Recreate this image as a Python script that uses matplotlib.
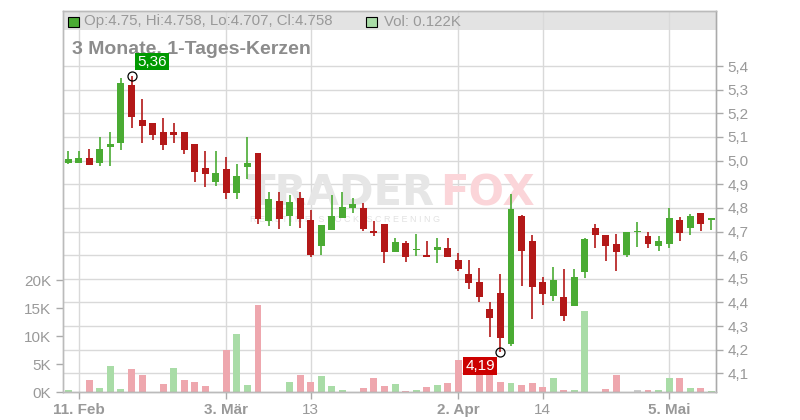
import numpy as np
import matplotlib
matplotlib.use("Agg")
import matplotlib.pyplot as plt
from matplotlib.patches import Rectangle
from matplotlib.lines import Line2D
from matplotlib.transforms import blended_transform_factory

plt.rcParams['font.family'] = ['Liberation Sans', 'DejaVu Sans']

# daily candles (index 0 = 10. Feb)
opens = [4.991, 4.99, 5.011, 4.991, 5.057, 5.076, 5.32, 5.172, 5.159, 5.121,
         5.121, 5.121, 5.07, 4.969, 4.911, 4.964, 4.864, 4.974, 5.032, 4.746,
         4.829, 4.767, 4.842, 4.749, 4.64, 4.708, 4.758, 4.801, 4.799, 4.703,
         4.732, 4.614, 4.651, 4.622, 4.602, 4.623, 4.632, 4.581, 4.522, 4.488,
         4.372, 4.44, 4.225, 4.767, 4.66, 4.486, 4.428, 4.423, 4.386, 4.53,
         4.715, 4.685, 4.647, 4.602, 4.698, 4.681, 4.64, 4.648, 4.749, 4.716,
         4.778, 4.75]
highs = [5.04, 5.04, 5.049, 5.10, 5.121, 5.349, 5.36, 5.259, 5.159, 5.18,
         5.159, 5.121, 5.07, 5.04, 5.04, 5.015, 4.985, 5.10, 5.032, 4.867,
         4.867, 4.854, 4.867, 4.791, 4.727, 4.854, 4.867, 4.842, 4.82, 4.744,
         4.732, 4.674, 4.661, 4.689, 4.661, 4.674, 4.674, 4.61, 4.581, 4.547,
         4.402, 4.52, 4.859, 4.771, 4.685, 4.507, 4.55, 4.541, 4.541, 4.672,
         4.733, 4.685, 4.689, 4.70, 4.74, 4.698, 4.681, 4.80, 4.761, 4.774,
         4.778, 4.758]
lows = [4.985, 4.99, 4.983, 4.978, 4.978, 5.046, 5.139, 5.076, 5.088, 5.046,
        5.076, 5.029, 4.91, 4.89, 4.894, 4.839, 4.839, 4.923, 4.733, 4.724,
        4.712, 4.724, 4.716, 4.593, 4.602, 4.708, 4.758, 4.779, 4.703, 4.682,
        4.568, 4.614, 4.572, 4.598, 4.593, 4.568, 4.593, 4.534, 4.458, 4.403,
        4.255, 4.19, 4.217, 4.471, 4.331, 4.39, 4.407, 4.323, 4.386, 4.505,
        4.631, 4.576, 4.534, 4.593, 4.636, 4.632, 4.619, 4.632, 4.661, 4.686,
        4.703, 4.707]
closes = [5.007, 5.011, 4.983, 5.049, 5.07, 5.328, 5.186, 5.147, 5.11, 5.067,
          5.11, 5.046, 4.953, 4.944, 4.949, 4.864, 4.935, 4.99, 4.754, 4.837,
          4.754, 4.825, 4.754, 4.602, 4.727, 4.765, 4.803, 4.816, 4.712, 4.695,
          4.614, 4.657, 4.593, 4.625, 4.593, 4.636, 4.593, 4.543, 4.483, 4.422,
          4.335, 4.251, 4.795, 4.619, 4.466, 4.437, 4.495, 4.344, 4.507, 4.668,
          4.686, 4.64, 4.615, 4.70, 4.70, 4.646, 4.66, 4.757, 4.695, 4.766,
          4.733, 4.758]
volumes = [357, 0, 2142, 714, 4641, 535, 4105, 3034, 0, 1428,
           4284, 2142, 1785, 1071, 0, 7556, 10353, 1250, 15530, 0,
           0, 1785, 3034, 1785, 2856, 1071, 357, 0, 714, 2499,
           1071, 1428, 178, 357, 892, 1250, 1607, 5712, 0, 4600,
           4600, 1785, 1607, 1250, 1607, 892, 2499, 357, 357, 14458,
           0, 535, 3034, 0, 357, 357, 357, 2499, 2499, 714,
           714, 122]

date_pos = [1, 15, 23, 37, 45, 57]
date_labels = ['11. Feb', '3. Mär', '13', '2. Apr', '14', '5. Mai']
date_bold = [True, True, False, True, False, True]

price_ticks = [4.1, 4.2, 4.3, 4.4, 4.5, 4.6, 4.7, 4.8, 4.9, 5.0, 5.1, 5.2, 5.3, 5.4]
vol_ticks = [0, 5000, 10000, 15000, 20000]

# colours
c_up = '#4aab33'
c_down = '#b31818'
v_up = '#a9dca7'
v_down = '#eea7ae'
v_flat = '#cccccc'
grid_c = '#d9d9d9'
txt_c = '#999999'

x = np.arange(len(closes))
o = np.array(opens)
h = np.array(highs)
l = np.array(lows)
c = np.array(closes)

fig = plt.figure(figsize=(8, 4.2), dpi=100)
ax = fig.add_axes([63/800, 28/420, 653/800, 381/420])
ax.set_xlim(-0.5, 61.45)
ax.set_ylim(0, 68036)
ax2 = ax.twinx()
ax2.set_ylim(4.021, 5.633)

# header band and grid (behind volumes)
ax.add_patch(Rectangle((0, 0.950), 1, 0.05, transform=ax.transAxes,
                       facecolor='#e3e3e3', edgecolor='none', zorder=0.3))
for p in date_pos:
    ax.axvline(p, color=grid_c, lw=1, zorder=0.5)
tr = blended_transform_factory(ax.transAxes, ax2.transData)
for p in price_ticks:
    ax.add_line(Line2D([0, 1], [p, p], transform=tr, color=grid_c, lw=1, zorder=0.5))

# watermark
ax.text(247/800, 1 - 205/420, 'TRADER', transform=fig.transFigure, fontsize=30,
        fontweight='bold', family='DejaVu Sans', color='#e6e6e6', zorder=0.6)
ax.text(440/800, 1 - 205/420, 'FOX', transform=fig.transFigure, fontsize=30,
        fontweight='bold', family='DejaVu Sans', color='#fbd5d9', zorder=0.6)
ax.text(250/800, 1 - 222/420, 'R E A L T I M E   S T O C K   S C R E E N I N G',
        transform=fig.transFigure, fontsize=6.5, color='#e2e2e2', zorder=0.6)

# volume bars, coloured by close vs previous close
vcols = [v_up]
for i in range(1, len(c)):
    d = round(c[i] - c[i-1], 4)
    vcols.append(v_up if d > 0 else (v_down if d < 0 else v_flat))
ax.bar(x, volumes, width=0.66, color=vcols, zorder=1)

# title sits under the candles and the value labels
ax2.text(72/800, 1 - 54/420, '3 Monate, 1-Tages-Kerzen', transform=fig.transFigure,
         fontsize=14, fontweight='bold', color='#8c8c8c', va='baseline', zorder=1)

# candles
cols = [c_up if c[i] >= o[i] else c_down for i in range(len(c))]
ax2.vlines(x, l, h, colors=cols, lw=1.2, zorder=2)
body = np.maximum(np.abs(c - o), 0.004)
ax2.bar(x, body, bottom=np.minimum(o, c), width=0.66, color=cols, zorder=3)

# high / low markers
ih = int(np.argmax(h))
il = int(np.argmin(l))
ax2.plot([ih, il], [h[ih], l[il]], 'o', ms=6.5, mfc='none', mec='black', mew=0.9, zorder=4)
ax2.annotate(f"{h[ih]:.2f}".replace('.', ','), (ih, h[ih]), xytext=(4, 5),
             textcoords='offset points', ha='left', va='bottom', color='white',
             fontsize=11, zorder=5,
             bbox=dict(boxstyle='square,pad=0.12', fc='#009900', ec='none'))
ax2.annotate(f"{l[il]:.2f}".replace('.', ','), (il, l[il]), xytext=(-4, -5),
             textcoords='offset points', ha='right', va='top', color='white',
             fontsize=11, zorder=5,
             bbox=dict(boxstyle='square,pad=0.12', fc='#cc0000', ec='none'))

# axes styling
ax.set_yticks(vol_ticks)
ax.set_yticklabels([f"{int(v/1000)}K" for v in vol_ticks])
ax.tick_params(axis='y', colors='#aaaaaa', labelcolor=txt_c, labelsize=11, length=5, width=1)
ax2.set_yticks(price_ticks)
ax2.set_yticklabels([f"{p:.1f}".replace('.', ',') for p in price_ticks])
ax2.tick_params(axis='y', colors='#aaaaaa', labelcolor=txt_c, labelsize=11, length=5, width=1)
ax.set_xticks(date_pos)
ax.set_xticklabels(date_labels)
ax.tick_params(axis='x', colors='#aaaaaa', labelcolor=txt_c, labelsize=11, length=5, width=1, pad=3)
for lab, b in zip(ax.get_xticklabels(), date_bold):
    if b:
        lab.set_fontweight('bold')
for a in (ax, ax2):
    for s in a.spines.values():
        s.set_color('#bbbbbb')
        s.set_linewidth(1)
ax2.spines['right'].set_color('#aaaaaa')
ax.spines['bottom'].set_color('#aaaaaa')

# header texts
fig.add_artist(Rectangle((68/800, 1 - 26.7/420), 10.5/800, 10/420, transform=fig.transFigure,
                         fc=c_up, ec='black', lw=0.8))
fig.text(84/800, 1 - 21.5/420, 'Op:4.75, Hi:4.758, Lo:4.707, Cl:4.758', fontsize=10.8,
         color=txt_c, va='center')
fig.add_artist(Rectangle((366/800, 1 - 26.7/420), 10.5/800, 10/420, transform=fig.transFigure,
                         fc=v_up, ec='black', lw=0.8))
fig.text(384/800, 1 - 21.5/420, 'Vol: 0.122K', fontsize=10.8, color=txt_c, va='center')

fig.savefig('out.png', dpi=100)
